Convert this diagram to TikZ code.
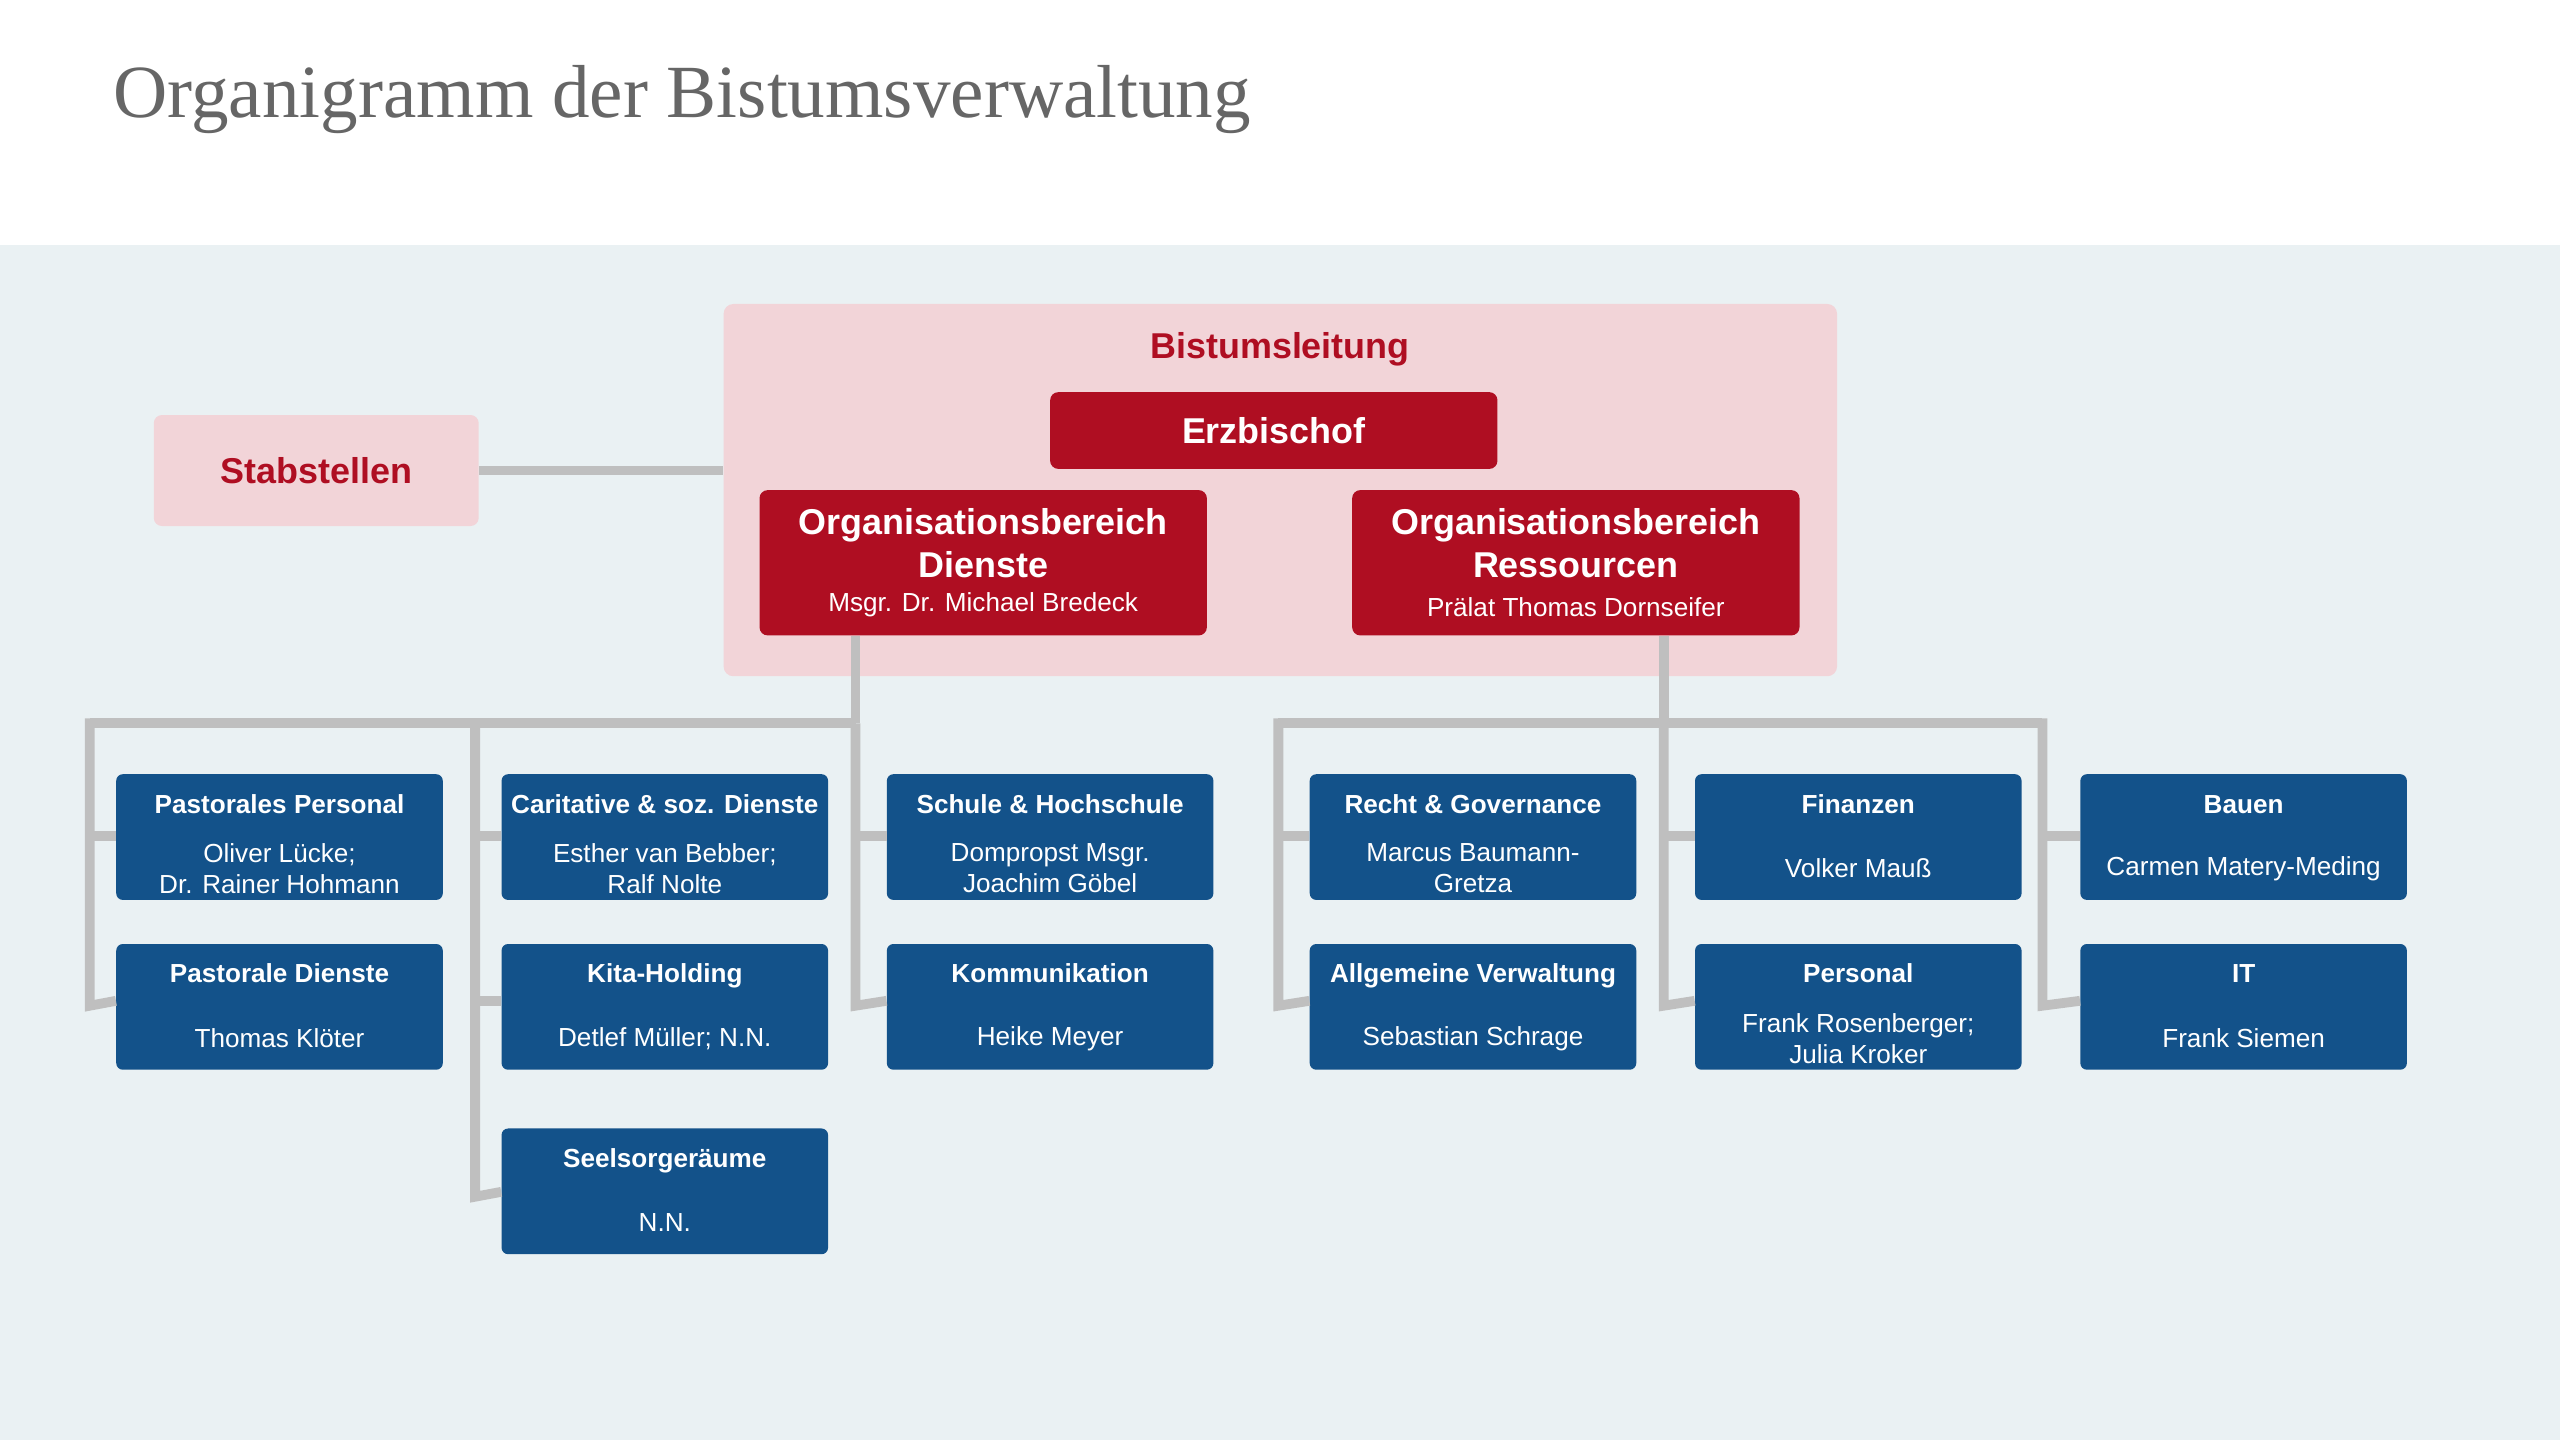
\documentclass[tikz,border=0pt]{standalone}
\usepackage{fontspec}
\setmainfont{Liberation Sans}
\newfontfamily\titlefont{Liberation Serif}
\definecolor{bg}{HTML}{EAF1F3}
\definecolor{pinkb}{HTML}{F2D4D8}
\definecolor{redb}{HTML}{AF0E22}
\definecolor{blueb}{HTML}{13528A}
\definecolor{conn}{HTML}{BFBFBF}
\begin{document}
\begin{tikzpicture}[x=1pt,y=-1pt,
 blue/.style={fill=blueb,rounded corners=4pt,minimum width=200pt,minimum height=77pt,anchor=north west,inner sep=0pt},
 red/.style={fill=redb,rounded corners=5pt,anchor=north west,inner sep=0pt},
 ln/.style={draw=conn,line width=6pt},
 bt/.style={text=white,font=\bfseries\fontsize{16}{19}\selectfont,align=center},
 nt/.style={text=white,font=\fontsize{16}{19}\selectfont,align=center}]
\useasboundingbox (0,0) rectangle (1568,882);
\fill[white] (0,0) rectangle (1568,150);
\fill[bg] (0,150) rectangle (1568,882);
\node[anchor=base west,text=black!60,font=\titlefont\fontsize{46}{50}\selectfont] (title) at (66,72) {Organigramm der Bistumsverwaltung};
\node[fill=pinkb,rounded corners=6pt,minimum width=682pt,minimum height=228pt,anchor=north west,inner sep=0pt] (leit) at (443,186) {};
\node[text=redb,font=\bfseries\fontsize{22}{26}\selectfont] (leitl) at (784,214) {Bistumsleitung};
\node[fill=pinkb,rounded corners=5pt,minimum width=199pt,minimum height=68pt,anchor=north west,inner sep=0pt,text=redb,font=\bfseries\fontsize{22}{26}\selectfont] (stab) at (94,254) {Stabstellen};
\draw[ln] (stab.east) -- (leit.west|-stab.east);
\node[red,minimum width=274pt,minimum height=47pt,text=white,font=\bfseries\fontsize{22}{26}\selectfont] (erz) at (643,240) {Erzbischof};
\node[red,minimum width=274pt,minimum height=89pt] (obd) at (465,300) {};
\node[red,minimum width=274pt,minimum height=89pt] (obr) at (828,300) {};
\foreach \n/\a/\b in {obd/Dienste/Msgr. Dr. Michael Bredeck, obr/Ressourcen/Prälat Thomas Dornseifer}{
 \node[text=white,font=\bfseries\fontsize{22}{26}\selectfont,align=center,anchor=north] at ([yshift=-8pt]\n.north) {Organisationsbereich\\\a};
 \node[text=white,font=\fontsize{16}{19}\selectfont,anchor=south] at ([yshift=8pt]\n.south) {\b};
}
% blue boxes
\foreach \name/\x/\y/\t/\s in {
 b1/71/474/Pastorales Personal/{Oliver Lücke;\\Dr. Rainer Hohmann},
 b2/71/578/Pastorale Dienste/{Thomas Klöter},
 b3/307/474/Caritative \& soz. Dienste/{Esther van Bebber;\\Ralf Nolte},
 b4/307/578/Kita-Holding/{Detlef Müller; N.N.},
 b5/307/691/Seelsorgeräume/{N.N.},
 b6/543/474/Schule \& Hochschule/{Dompropst Msgr.\\Joachim Göbel},
 b7/543/578/Kommunikation/{Heike Meyer},
 b8/802/474/Recht \& Governance/{Marcus Baumann-\\Gretza},
 b9/802/578/Allgemeine Verwaltung/{Sebastian Schrage},
 b10/1038/474/Finanzen/{Volker Mauß},
 b11/1038/578/Personal/{Frank Rosenberger;\\Julia Kroker},
 b12/1274/474/Bauen/{Carmen Matery-Meding},
 b13/1274/578/IT/{Frank Siemen}}{
 \node[blue] (\name) at (\x,\y) {};
 \node[bt,anchor=base] at ([yshift=-24pt]\name.north) {\t};
 \node[nt,anchor=center] at ([yshift=-58pt]\name.north) {\s};
}
% connectors
\coordinate (hd) at (524,443);
\coordinate (hr) at (1019,443);
\draw[ln] (obd.south-|hd) -- (hd);
\draw[ln] (obr.south-|hr) -- (hr);
\draw[ln] (524,443) -- (55,443);
\draw[ln] (783,443) -- (1251,443);
\draw[ln] (55,440) -- (55,616) -- (b2.west|-55,613);
\draw[ln] (55,512) -- (b1.west|-55,512);
\draw[ln] (291,440) -- (291,733) -- (b5.west|-291,730);
\draw[ln] (291,512) -- (b3.west|-291,512);
\draw[ln] (291,613) -- (b4.west|-291,613);
\draw[ln] (524,443) -- (524,616) -- (b7.west|-524,613);
\draw[ln] (524,512) -- (b6.west|-524,512);
\foreach \vx/\ua/\ub in {783/b8/b9,1019/b10/b11,1251/b12/b13}{
 \draw[ln] (\vx,440) -- (\vx,616) -- (\ub.west|-\vx,613);
 \draw[ln] (\vx,512) -- (\ua.west|-\vx,512);
}
\end{tikzpicture}
\end{document}
